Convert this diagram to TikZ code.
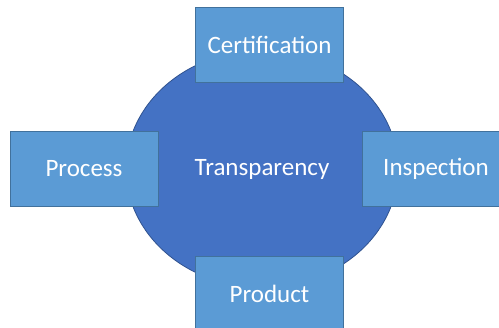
\documentclass[tikz,border=0pt]{standalone}
\usepackage{fontspec}
\setmainfont{Carlito}
\usetikzlibrary{shapes.geometric}

\definecolor{core}{HTML}{4472C4}
\definecolor{coreline}{HTML}{2F528F}
\definecolor{side}{HTML}{5B9BD5}
\definecolor{sideline}{HTML}{41719C}

\tikzset{
 hub/.style={ellipse,fill=core,draw=coreline,line width=0.8pt,
  minimum width=272pt,minimum height=237pt,inner sep=0pt,
  text=white,font=\fontsize{25}{30}\selectfont},
 facet/.style={rectangle,fill=side,draw=sideline,line width=0.8pt,
  minimum width=148pt,minimum height=75pt,inner sep=0pt,
  text=white,font=\fontsize{25}{30}\selectfont}
}

\begin{document}
\begin{tikzpicture}[x=1pt,y=-1pt]

\useasboundingbox (0,0) rectangle (499,328);
\clip (0,0) rectangle (499,328);

% centre
\node[hub] (transparency) at (262,169) {Transparency};

% four sides
\node[facet] (certification) at (269.5,45) {Certification};
\node[facet] (process) at (84,169) {Process};
\node[facet] (inspection) at (436,169) {Inspection};
\node[facet] (product) at (269.5,294) {Product};

\end{tikzpicture}
\end{document}
